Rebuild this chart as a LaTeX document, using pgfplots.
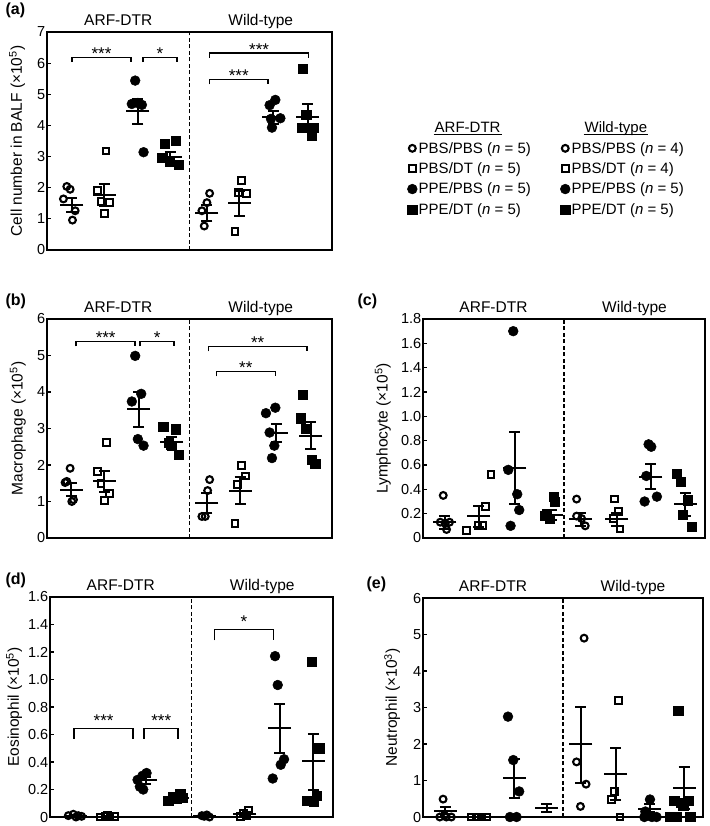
\documentclass[border=0pt]{standalone}
\usepackage{fontspec}
\setmainfont{Liberation Sans}
\usepackage{pgfplots}
\pgfplotsset{compat=1.18}
\newcommand{\ulhdr}[1]{\setbox0\hbox{#1}\rlap{\hspace*{-1pt}\rule[-2.8pt]{\dimexpr\wd0+2pt\relax}{1.1pt}}\box0}
\newcommand{\yl}[1]{\fontsize{15.5}{17}\selectfont #1}
\pgfplotsset{
  panel/.style={
    scale only axis, xmin=0.25, xmax=8.75, xtick=\empty, clip=false,
    axis line style={line width=1.8pt},
    ytick pos=left, tick align=inside, major tick length=3.5pt,
    ytick style={line width=1.1pt, black},
    yticklabel style={font=\fontsize{14.5}{14.5}\selectfont, inner sep=1.5pt},
    /pgf/number format/assume math mode=true,
  },
  ylpos/.style={ylabel style={at={(axis description cs:#1,0.5)}, anchor=center}},
  limg/.style={legend image code/.code={\draw[##1] plot coordinates {(0pt,0pt)};}},
  oc/.style={forget plot, only marks, black, line width=2.1pt, mark=o, mark size=3.4pt, mark options={line width=2.1pt}},
  os/.style={forget plot, only marks, black, line width=2pt, mark=square, mark size=3.4pt, mark options={line width=2pt}},
  fc/.style={forget plot, only marks, black, line width=0.5pt, mark=*, mark size=4.9pt},
  fs/.style={forget plot, only marks, black, line width=0.5pt, mark=square*, mark size=4.6pt},
  msem/.style={forget plot, only marks, black, line width=2pt, mark=-, mark size=11.5pt, mark options={line width=2pt},
    error bars/.cd, y dir=both, y explicit, error bar style={line width=2pt, black},
    error mark=-, error mark options={rotate=90, line width=2pt, mark size=5.5pt, black}},
  brk/.style={forget plot, black, line width=1.5pt, mark=none},
  divl/.style={forget plot, black, line width=1.1pt, dash pattern=on 4pt off 2.5pt, mark=none},
}
\newcommand{\hdrs}{%
  \node[anchor=base, font=\fontsize{15.5}{16}\selectfont, yshift=7pt] at (rel axis cs:0.25,1) {ARF-DTR};
  \node[anchor=base, font=\fontsize{15.5}{16}\selectfont, yshift=7pt] at (rel axis cs:0.75,1) {Wild-type};
}
\newcommand{\stars}[3]{\node[anchor=base, font=\fontsize{17}{17}\selectfont, yshift=#3] at (axis cs:#1) {#2};}
\newcommand{\plbl}[2]{\node[anchor=base west, font=\bfseries\fontsize{16}{16}\selectfont] at #1 {#2};}
\begin{document}
\begin{tikzpicture}
\path[use as bounding box] (0pt,0pt) rectangle (709pt,-826pt);

\plbl{(2pt,-15pt)}{(a)}
\plbl{(2pt,-305pt)}{(b)}
\plbl{(354pt,-305pt)}{(c)}
\plbl{(2pt,-584pt)}{(d)}
\plbl{(363pt,-588pt)}{(e)}

% ---------------- (a)
\begin{axis}[panel, at={(47pt,-250pt)}, anchor=south west, width=285pt, height=218pt,
  ymin=0, ymax=7, ytick={0,1,2,3,4,5,6,7},
  ylabel={\yl{Cell number in BALF (×10\textsuperscript{5})}}, ylpos=-0.105,
  legend columns=2,
  legend cell align=left,
  legend style={draw=none, fill=none, at={(1.264,0.596)}, anchor=north west,
    font=\fontsize{15}{15}\selectfont, inner sep=0pt, row sep=5pt,
    nodes={inner sep=1.5pt},
    /tikz/every even column/.append style={column sep=28pt}},
]
\addplot[divl] coordinates {(4.5,0) (4.5,7)};
\addplot[oc] coordinates {(0.84,2.04) (0.94,1.95) (0.74,1.64) (1.09,1.26) (1.01,0.96) (5.10,1.82) (5.02,1.52) (4.87,1.26) (4.94,0.77)};
\addplot[os] coordinates {(2.01,3.18) (1.76,1.91) (1.86,1.55) (2.11,1.52) (1.96,1.18) (6.06,2.22) (5.96,1.84) (6.19,1.82) (5.86,0.59)};
\addplot[fc] coordinates {(2.88,5.44) (2.78,4.69) (2.96,4.72) (3.08,4.66) (3.13,3.14) (7.06,4.82) (6.89,4.65) (6.93,4.21) (7.21,4.23) (6.96,3.93)};
\addplot[fs] coordinates {(3.75,3.41) (4.10,3.50) (3.69,2.95) (3.92,2.85) (4.17,2.73) (7.88,5.82) (7.98,4.34) (7.85,3.93) (8.20,3.93) (8.15,3.67)};
\addplot[msem] coordinates {
  (0.99,1.45) += (0,0.22) -= (0,0.23)
  (1.96,1.77) += (0,0.35) -= (0,0.36)
  (2.96,4.45) += (0,0.39) -= (0,0.41)
  (3.92,3.00) += (0,0.16) -= (0,0.19)
  (5.02,1.18) += (0,0.25) -= (0,0.25)
  (5.99,1.50) += (0,0.38) -= (0,0.40)
  (7.00,4.27) += (0,0.18) -= (0,0.21)
  (8.02,4.27) += (0,0.41) -= (0,0.47)};
\addplot[brk] coordinates {(0.99,6.03) (0.99,6.18) (2.76,6.18) (2.76,6.03)};
\addplot[brk] coordinates {(3.11,6.03) (3.11,6.18) (4.12,6.18) (4.12,6.03)};
\addplot[brk] coordinates {(5.10,6.17) (5.10,6.32) (8.05,6.32) (8.05,6.17)};
\addplot[brk] coordinates {(5.10,5.32) (5.10,5.47) (6.84,5.47) (6.84,5.32)};
\stars{1.875,6.18}{***}{-2pt}
\stars{3.615,6.18}{*}{-2pt}
\stars{6.575,6.32}{***}{-2pt}
\stars{5.97,5.47}{***}{-2pt}
\hdrs
\addlegendimage{empty legend}
\addlegendentry{\hspace*{16pt}\ulhdr{ARF-DTR}}
\addlegendimage{empty legend}
\addlegendentry{\hspace*{13pt}\ulhdr{Wild-type}}
\addlegendimage{black, line width=2.1pt, mark=o, mark size=3.4pt, limg}
\addlegendentry{PBS/PBS (\textit{n} = 5)}
\addlegendimage{black, line width=2.1pt, mark=o, mark size=3.4pt, limg}
\addlegendentry{PBS/PBS (\textit{n} = 4)}
\addlegendimage{black, line width=2pt, mark=square, mark size=3.4pt, limg}
\addlegendentry{PBS/DT (\textit{n} = 5)}
\addlegendimage{black, line width=2pt, mark=square, mark size=3.4pt, limg}
\addlegendentry{PBS/DT (\textit{n} = 4)}
\addlegendimage{black, line width=0.5pt, mark=*, mark size=4.9pt, limg}
\addlegendentry{PPE/PBS (\textit{n} = 5)}
\addlegendimage{black, line width=0.5pt, mark=*, mark size=4.9pt, limg}
\addlegendentry{PPE/PBS (\textit{n} = 5)}
\addlegendimage{black, line width=0.5pt, mark=square*, mark size=4.6pt, limg}
\addlegendentry{PPE/DT (\textit{n} = 5)}
\addlegendimage{black, line width=0.5pt, mark=square*, mark size=4.6pt, limg}
\addlegendentry{PPE/DT (\textit{n} = 5)}
\end{axis}

% ---------------- (b)
\begin{axis}[panel, at={(47pt,-538pt)}, anchor=south west, width=285pt, height=219pt,
  ymin=0, ymax=6, ytick={0,1,2,3,4,5,6},
  ylabel={\yl{Macrophage (×10\textsuperscript{5})}}, ylpos=-0.102]
\addplot[divl] coordinates {(4.5,0) (4.5,6)};
\addplot[oc] coordinates {(0.94,1.91) (0.79,1.52) (0.84,1.55) (1.04,1.05) (0.99,1.0) (5.10,1.6) (5.04,1.30) (4.87,0.59) (4.97,0.59)};
\addplot[os] coordinates {(2.03,2.62) (1.76,1.82) (1.86,1.50) (2.11,1.23) (1.96,1.03) (6.06,1.98) (6.16,1.70) (5.93,1.46) (5.86,0.39)};
\addplot[fc] coordinates {(2.88,4.99) (2.78,3.74) (3.06,3.95) (2.96,2.71) (3.13,2.53) (7.06,3.57) (6.78,3.42) (6.89,2.89) (7.03,2.53) (6.96,2.19)};
\addplot[fs] coordinates {(3.72,3.05) (4.10,2.98) (3.87,2.60) (3.97,2.52) (4.17,2.28) (7.88,3.92) (7.83,3.28) (7.98,3.0) (8.15,2.14) (8.25,2.03)};
\addplot[msem] coordinates {
  (0.97,1.32) += (0,0.20) -= (0,0.18)
  (1.96,1.55) += (0,0.29) -= (0,0.30)
  (2.98,3.53) += (0,0.48) -= (0,0.48)
  (3.97,2.62) += (0,0.16) -= (0,0.19)
  (5.02,0.96) += (0,0.27) -= (0,0.28)
  (6.01,1.29) += (0,0.37) -= (0,0.36)
  (7.09,2.87) += (0,0.25) -= (0,0.25)
  (8.12,2.80) += (0,0.39) -= (0,0.37)};
\addplot[brk] coordinates {(1.12,5.25) (1.12,5.38) (2.88,5.38) (2.88,5.25)};
\addplot[brk] coordinates {(3.03,5.25) (3.03,5.38) (4.04,5.38) (4.04,5.25)};
\addplot[brk] coordinates {(5.07,5.11) (5.07,5.24) (8.00,5.24) (8.00,5.11)};
\addplot[brk] coordinates {(5.30,4.43) (5.30,4.56) (7.06,4.56) (7.06,4.43)};
\stars{2.0,5.38}{***}{-2pt}
\stars{3.535,5.38}{*}{-2pt}
\stars{6.535,5.24}{**}{-2pt}
\stars{6.18,4.56}{**}{-2pt}
\hdrs
\end{axis}

% ---------------- (c)
\begin{axis}[panel, at={(423pt,-538pt)}, anchor=south west, width=282pt, height=219pt,
  ymin=0, ymax=1.8, ytick={0,0.2,0.4,0.6,0.8,1.0,1.2,1.4,1.6,1.8},
  yticklabels={0,0.2,0.4,0.6,0.8,1.0,1.2,1.4,1.6,1.8},
  ylabel={\yl{Lymphocyte (×10\textsuperscript{5})}}, ylpos=-0.142]
\addplot[divl] coordinates {(4.5,0) (4.5,1.8)};
\addplot[oc] coordinates {(0.86,0.35) (0.77,0.13) (0.92,0.12) (1.05,0.13) (0.96,0.07) (4.88,0.32) (5.03,0.16) (4.88,0.18) (5.14,0.10)};
\addplot[os] coordinates {(2.30,0.52) (2.14,0.26) (2.04,0.10) (1.91,0.10) (1.55,0.06) (6.02,0.32) (6.14,0.22) (5.99,0.16) (6.19,0.074)};
\addplot[fc] coordinates {(2.97,1.70) (2.82,0.56) (3.09,0.36) (3.15,0.23) (2.89,0.10) (7.05,0.77) (7.13,0.75) (6.98,0.51) (6.93,0.30) (7.30,0.34)};
\addplot[fs] coordinates {(4.18,0.34) (4.23,0.30) (3.98,0.20) (3.93,0.18) (4.06,0.16) (7.90,0.53) (8.01,0.46) (8.23,0.31) (8.09,0.19) (8.34,0.09)};
\addplot[msem] coordinates {
  (0.91,0.130) += (0,0.050) -= (0,0.056)
  (1.93,0.180) += (0,0.085) -= (0,0.090)
  (3.02,0.575) += (0,0.295) -= (0,0.295)
  (4.11,0.190) += (0,0.040) -= (0,0.040)
  (5.00,0.156) += (0,0.050) -= (0,0.056)
  (6.09,0.156) += (0,0.050) -= (0,0.056)
  (7.12,0.500) += (0,0.110) -= (0,0.100)
  (8.16,0.280) += (0,0.090) -= (0,0.100)};
\hdrs
\end{axis}

% ---------------- (d)
\begin{axis}[panel, at={(50pt,-817pt)}, anchor=south west, width=283pt, height=220pt,
  ymin=0, ymax=1.6, ytick={0,0.2,0.4,0.6,0.8,1.0,1.2,1.4,1.6},
  yticklabels={0,0.2,0.4,0.6,0.8,1.0,1.2,1.4,1.6},
  ylabel={\yl{Eosinophil (×10\textsuperscript{5})}}, ylpos=-0.127]
\addplot[divl] coordinates {(4.5,0) (4.5,1.6)};
\addplot[oc] coordinates {(0.80,0.01) (0.95,0.02) (1.10,0.01) (1.20,0.005) (1.03,0.0) (4.81,0.01) (4.96,0.015) (4.88,0.005) (5.04,0.0)};
\addplot[os] coordinates {(1.75,0.0) (1.90,0.005) (2.05,0.0) (2.20,0.005) (1.97,0.01) (5.96,0.005) (6.06,0.025) (6.16,0.012) (6.21,0.05)};
\addplot[fc] coordinates {(3.15,0.32) (3.03,0.30) (2.88,0.27) (2.95,0.22) (3.05,0.20) (7.01,1.17) (7.09,0.96) (7.28,0.42) (7.18,0.38) (6.94,0.28)};
\addplot[fs] coordinates {(4.16,0.17) (3.95,0.145) (3.80,0.12) (4.05,0.13) (4.24,0.14) (8.11,1.13) (8.34,0.50) (8.26,0.153) (7.96,0.12) (8.16,0.115)};
\addplot[msem] coordinates {
  (1.02,0.010) += (0,0.006) -= (0,0.006)
  (1.97,0.003) += (0,0.003) -= (0,0.003)
  (3.12,0.267) += (0,0.023) -= (0,0.027)
  (4.08,0.138) += (0,0.022) -= (0,0.018)
  (4.90,0.008) += (0,0.005) -= (0,0.004)
  (6.10,0.022) += (0,0.008) -= (0,0.010)
  (7.15,0.647) += (0,0.177) -= (0,0.182)
  (8.16,0.405) += (0,0.201) -= (0,0.211)};
\addplot[brk] coordinates {(0.97,0.570) (0.97,0.642) (2.75,0.642) (2.75,0.570)};
\addplot[brk] coordinates {(3.08,0.570) (3.08,0.642) (4.10,0.642) (4.10,0.570)};
\addplot[brk] coordinates {(5.19,1.285) (5.19,1.365) (6.96,1.365) (6.96,1.285)};
\stars{1.86,0.642}{***}{2pt}
\stars{3.59,0.642}{***}{2pt}
\stars{6.075,1.365}{*}{2pt}
\hdrs
\end{axis}

% ---------------- (e)
\begin{axis}[panel, at={(423pt,-817pt)}, anchor=south west, width=280pt, height=219pt,
  ymin=0, ymax=6, ytick={0,1,2,3,4,5,6},
  ylabel={\yl{Neutrophil (×10\textsuperscript{3})}}, ylpos=-0.11]
\addplot[divl] coordinates {(4.5,0) (4.5,6)};
\addplot[oc] coordinates {(0.86,0.49) (0.76,0) (0.96,0) (1.11,0) (0.90,0.05) (5.14,4.9) (4.91,1.51) (5.20,0.90) (5.03,0.29)};
\addplot[os] coordinates {(1.72,0) (1.87,0) (2.02,0) (2.18,0) (1.94,0) (6.18,3.2) (6.06,0.7) (5.97,0.49) (6.23,0)};
\addplot[fc] coordinates {(2.83,2.75) (2.99,1.56) (3.17,0.70) (2.89,0) (3.09,0) (7.14,0.48) (7.00,0.15) (6.97,0) (7.20,0) (7.34,0)};
\addplot[fs] coordinates {(8.00,2.91) (7.88,0.45) (8.08,0.40) (8.31,0.44) (8.15,0.30) (7.75,0) (7.95,0) (8.36,0)};
\addplot[msem] coordinates {
  (0.93,0.165) += (0,0.105) -= (0,0.095)
  (1.94,0.000) += (0,0.000) -= (0,0.000)
  (3.02,1.070) += (0,0.530) -= (0,0.540)
  (4.00,0.256) += (0,0.110) -= (0,0.120)
  (5.04,1.990) += (0,1.030) -= (0,1.060)
  (6.10,1.170) += (0,0.730) -= (0,0.710)
  (7.14,0.230) += (0,0.120) -= (0,0.090)
  (8.18,0.800) += (0,0.570) -= (0,0.570)};
\hdrs
\end{axis}
\end{tikzpicture}
\end{document}
